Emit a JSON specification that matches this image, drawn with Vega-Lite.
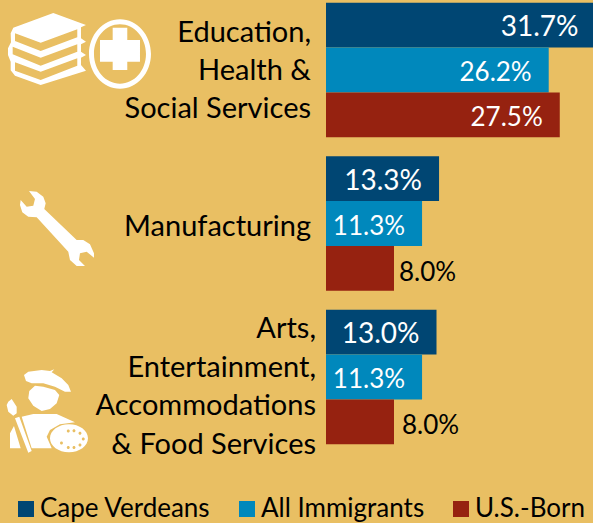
{"$schema":"https://vega.github.io/schema/vega-lite/v6.json","width":267,"height":523,"autosize":"none","padding":{"left":326,"top":0,"right":0,"bottom":0},"background":"#E9BF63","config":{"view":{"stroke":null},"font":"Lato"},"datasets":{"bars":[{"group":"Education","series":"Cape Verdeans","value":31.7,"label":"31.7%"},{"group":"Education","series":"All Immigrants","value":26.2,"label":"26.2%"},{"group":"Education","series":"U.S.-Born","value":27.5,"label":"27.5%"},{"group":"Manufacturing","series":"Cape Verdeans","value":13.3,"label":"13.3%"},{"group":"Manufacturing","series":"All Immigrants","value":11.3,"label":"11.3%"},{"group":"Manufacturing","series":"U.S.-Born","value":8.0,"label":"8.0%"},{"group":"Arts","series":"Cape Verdeans","value":13.0,"label":"13.0%"},{"group":"Arts","series":"All Immigrants","value":11.3,"label":"11.3%"},{"group":"Arts","series":"U.S.-Born","value":8.0,"label":"8.0%"}],"groups":[{"group":"Education","lines":"Education,|Health &|Social Services","icon":"books"},{"group":"Manufacturing","lines":"Manufacturing","icon":"wrench"},{"group":"Arts","lines":"Arts,|Entertainment,|Accommodations|& Food Services","icon":"artist"}]},"encoding":{"y":{"field":"group","type":"nominal","axis":null,"scale":{"domain":["Education","Manufacturing","Arts"],"range":[-6.75,453.75],"paddingInner":0.125,"paddingOuter":0.0625}}},"layer":[{"data":{"name":"bars"},"mark":{"type":"bar","clip":true},"encoding":{"x":{"field":"value","type":"quantitative","axis":null,"scale":{"domain":[0,31.41],"nice":false,"zero":true}},"yOffset":{"field":"series","type":"nominal","scale":{"domain":["Cape Verdeans","All Immigrants","U.S.-Born"]}},"color":{"field":"series","type":"nominal","scale":{"domain":["Cape Verdeans","All Immigrants","U.S.-Born"],"range":["#004673","#0088BC","#962210"]},"legend":{"title":null,"orient":"none","legendX":-313,"legendY":496,"direction":"horizontal","columns":3,"symbolType":"square","symbolSize":256,"symbolOpacity":1,"labelFont":"Lato","labelFontSize":26,"labelColor":"#000000","labelLimit":300,"columnPadding":23,"labelOffset":1,"symbolStrokeWidth":0}}}},{"data":{"name":"bars"},"transform":[{"filter":"datum.value > 10"}],"mark":{"type":"text","align":"right","baseline":"middle","dx":-17,"dy":3,"color":"#FFFFFF"},"encoding":{"x":{"field":"value","type":"quantitative"},"yOffset":{"field":"series","type":"nominal","scale":{"domain":["Cape Verdeans","All Immigrants","U.S.-Born"]}},"text":{"field":"label"},"size":{"condition":{"test":"datum.series === 'Cape Verdeans'","value":28},"value":26}}},{"data":{"name":"bars"},"transform":[{"filter":"datum.value < 10 && datum.group === 'Manufacturing'"}],"mark":{"type":"text","align":"left","baseline":"middle","dx":5,"dy":5,"fontSize":26,"color":"#000000"},"encoding":{"x":{"field":"value","type":"quantitative"},"yOffset":{"field":"series","type":"nominal","scale":{"domain":["Cape Verdeans","All Immigrants","U.S.-Born"]}},"text":{"field":"label"}}},{"data":{"name":"bars"},"transform":[{"filter":"datum.value < 10 && datum.group === 'Arts'"}],"mark":{"type":"text","align":"left","baseline":"middle","dx":8,"dy":4,"fontSize":26,"color":"#000000"},"encoding":{"x":{"field":"value","type":"quantitative"},"yOffset":{"field":"series","type":"nominal","scale":{"domain":["Cape Verdeans","All Immigrants","U.S.-Born"]}},"text":{"field":"label"}}},{"data":{"name":"groups"},"transform":[{"filter":"datum.group === 'Education'"}],"mark":{"type":"text","align":"right","baseline":"middle","lineBreak":"|","lineHeight":38,"fontSize":29,"color":"#000000","dx":-15,"dy":-37},"encoding":{"x":{"datum":0},"text":{"field":"lines"}}},{"data":{"name":"groups"},"transform":[{"filter":"datum.group === 'Manufacturing'"}],"mark":{"type":"text","align":"right","baseline":"middle","lineBreak":"|","lineHeight":38,"fontSize":29,"color":"#000000","dx":-15,"dy":3},"encoding":{"x":{"datum":0},"text":{"field":"lines"}}},{"data":{"name":"groups"},"transform":[{"filter":"datum.group === 'Arts'"}],"mark":{"type":"text","align":"right","baseline":"middle","lineBreak":"|","lineHeight":38.5,"fontSize":29,"color":"#000000","dx":-10,"dy":-48},"encoding":{"x":{"datum":0},"text":{"field":"lines"}}},{"data":{"name":"groups"},"mark":{"type":"point","filled":true,"fill":"#FFFFFF","fillOpacity":1,"opacity":1,"strokeWidth":0,"size":4},"encoding":{"x":{"datum":-38.353},"shape":{"field":"icon","type":"nominal","legend":null,"scale":{"domain":["books","wrench","artist"],"range":["M53.3,-57L86,-45L81,-42.7L81,-31.7L86,-28.3L81,-25.7L81,-18.3L86,-15L81,-12.3L81,-5L86,0.7L40.7,15L15,5.7L10.7,0.3L10.7,-8.3L8,-15L8,-21.7L11,-27.7L10.7,-36.7L13.3,-42.3ZM15,-36.7L15,-29L40.7,-19L77.3,-32.7L77.3,-40.7L40.7,-27.3ZM12.7,-23.3L12.7,-15.7L40.7,-4.3L77.3,-18.3L77.3,-25.7L40.7,-12.3ZM15,-7.7L15,0.7L40.7,10L77.3,-4.3L77.3,-11.7L40.7,1.7ZM89,-16A31,34.7 0 1 1 151,-16A31,34.7 0 1 1 89,-16ZM94,-16A26,29.7 0 1 0 146,-16A26,29.7 0 1 0 94,-16ZM112.7,-42.3L127.3,-42.3L127.3,-30L140,-30L140,-8.3L127.3,-8.3L127.3,0L112.7,0L112.7,-8.3L100,-8.3L100,-30L112.7,-30Z","M29,-32.5L36.7,-31.8L43.3,-26.8L45.7,-20.2L44.3,-14.5L76.7,16.5L83.3,16.5L90,20.8L94,29.8L94,34.2L86.7,28.2L80,29.8L79,36.5L85,42.5L76.7,42.5L70,36.5L68.3,28.2L36.7,-6.2L28.3,-6.8L22.3,-11.2L20,-18.5L20.7,-23.5L26.7,-16.8L33.3,-17.8L35,-24.5Z","M24,-2L28.3,-5.3L41.7,-7L50,-6L54.3,-7.7L51.7,-4.7L61.7,1.3L68.3,8L71,14.7L65,14.7L55,9.7L43.3,6.3L31.7,6.3L26,4ZM29.3,14L35,8.7L43.3,9.7L55,13L59.3,18L56.7,26.3L50,32L41.7,34L33.3,28.7L28.3,21.3ZM11.7,22L16.7,29.7L16.7,36.3L13.3,38.7L8.3,34.7L6.7,28L8.3,24.7ZM15,41.3L19.3,39.7L31.7,74L28.3,75.7ZM21.7,39.7L33.3,37L56.7,37L75,45.3L60,47.3L50,53L46.7,59.7L50,67.3L51.7,71.3L31.7,71.3ZM10,71.3L10,56.3L14,49L20.7,71.3ZM50,61.3A19,14 0 1 1 88,61.3A19,14 0 1 1 50,61.3ZM66.8,54A1.5,1.5 0 1 0 69.8,54A1.5,1.5 0 1 0 66.8,54ZM72.5,53.7A1.5,1.5 0 1 0 75.5,53.7A1.5,1.5 0 1 0 72.5,53.7ZM78.5,56.3A1.5,1.5 0 1 0 81.5,56.3A1.5,1.5 0 1 0 78.5,56.3ZM81.8,62A1.5,1.5 0 1 0 84.8,62A1.5,1.5 0 1 0 81.8,62ZM78.5,68A1.5,1.5 0 1 0 81.5,68A1.5,1.5 0 1 0 78.5,68ZM72.5,70.5A1.5,1.5 0 1 0 75.5,70.5A1.5,1.5 0 1 0 72.5,70.5ZM66.8,70.5A1.5,1.5 0 1 0 69.8,70.5A1.5,1.5 0 1 0 66.8,70.5ZM60,66A1.5,1.5 0 1 0 63,66A1.5,1.5 0 1 0 60,66Z"]}}}}],"resolve":{"scale":{"yOffset":"shared"}}}
